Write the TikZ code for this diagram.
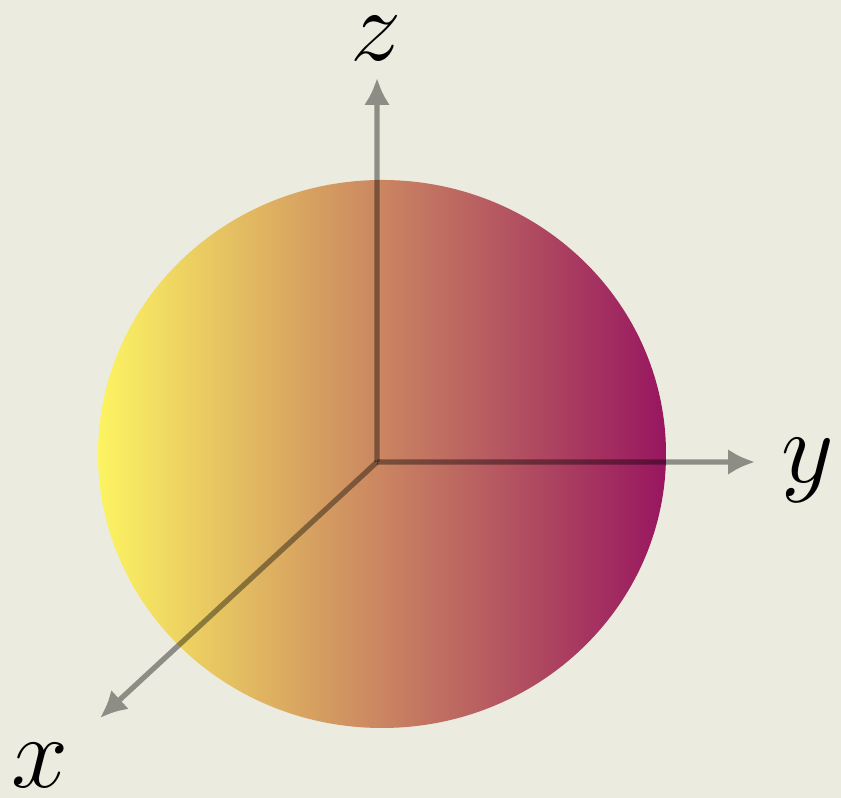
\documentclass[tikz,border=0pt]{standalone}
\usepackage{amsmath,amssymb}
\usetikzlibrary{arrows.meta}
\definecolor{paper}{RGB}{236,235,223}
\definecolor{ballL}{RGB}{252,244,98}
\definecolor{ballM}{RGB}{206,134,100}
\definecolor{ballR}{RGB}{152,22,96}

\begin{document}
\begin{tikzpicture}[scale=1]
\fill[paper] (0,0) rectangle (8.41,7.98);
\useasboundingbox (0,0) rectangle (8.41,7.98);

\shade[left color=ballL, middle color=ballM, right color=ballR] (3.82,3.44) ellipse [x radius=2.84, y radius=2.74];

\coordinate (O) at (3.77,3.36);
\coordinate (X) at (1.00,0.80);
\coordinate (Y) at (7.55,3.36);
\coordinate (Z) at (3.77,7.20);

\begin{scope}[transparency group, opacity=0.4]
\draw[line width=1.5pt, black, -{Latex[length=0.27cm,width=0.26cm]}] (O) -- (X);
\end{scope}
\begin{scope}[transparency group, opacity=0.4]
\draw[line width=1.5pt, black, -{Latex[length=0.27cm,width=0.26cm]}] (O) -- (Y);
\end{scope}
\begin{scope}[transparency group, opacity=0.4]
\draw[line width=1.5pt, black, -{Latex[length=0.27cm,width=0.26cm]}] (O) -- (Z);
\end{scope}

\node[inner sep=0pt, font=\Huge, scale=1.17] (lx) at (0.40,0.33) {$x$};
\node[inner sep=0pt, font=\Huge, scale=1.17] (ly) at (8.08,3.28) {$y$};
\node[inner sep=0pt, font=\Huge, scale=1.17] (lz) at (3.76,7.60) {$z$};
\end{tikzpicture}
\end{document}
